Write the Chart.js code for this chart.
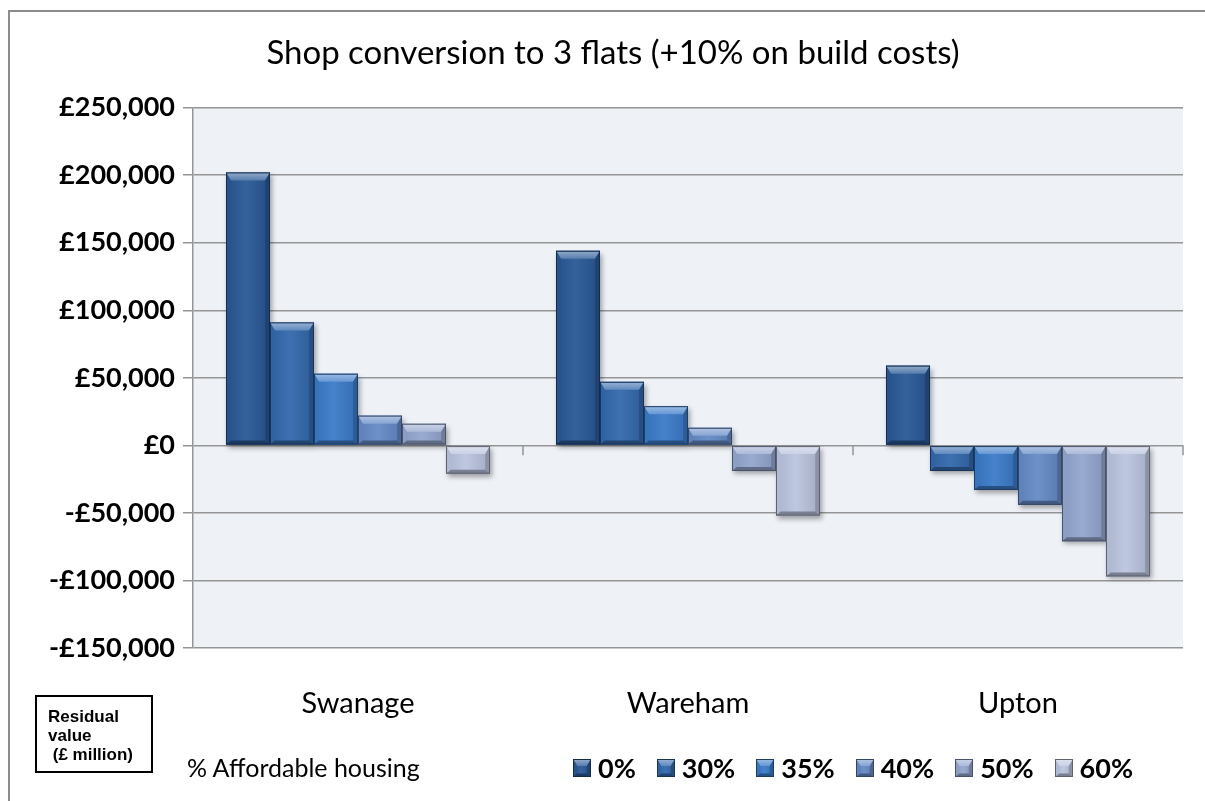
<!DOCTYPE html>
<html>
<head>
<meta charset="utf-8">
<script src="https://cdn.jsdelivr.net/npm/chart.js@4.4.1/dist/chart.umd.min.js"></script>
<style>
  html, body { margin: 0; padding: 0; background: #fff; overflow: hidden; }
  #wrap { position: relative; width: 1205px; height: 801px; overflow: hidden; }
  #chart { position: absolute; left: 0; top: 0; }
  #frame { position: absolute; left: 8px; top: 10px; width: 1300px; height: 900px; border: 2px solid #8c8c8c; box-sizing: border-box; pointer-events: none; }
  #unitBox { position: absolute; left: 35px; top: 695px; width: 118px; height: 78px; border: 2px solid #000; box-sizing: border-box;
             font: bold 17px "Liberation Sans", Arial, sans-serif; line-height: 19px; padding: 10px 0 0 11px; color: #000; }
  #legendLabel { position: absolute; left: 187px; top: 752px; font: 25px Lato, sans-serif; color: #000; }
  #legend { position: absolute; left: 573px; top: 751px; display: flex; align-items: center; font: bold 27px Lato, sans-serif; color: #000; }
  #legend .item { display: flex; align-items: center; margin-right: 21px; }
  #legend canvas { margin-right: 7px; }
</style>
</head>
<body>
<div id="wrap">
  <canvas id="chart" width="1205" height="801"></canvas>
  <div id="frame"></div>
  <div id="unitBox">Residual<br>value<br>&nbsp;(£ million)</div>
  <div id="legendLabel">% Affordable housing</div>
  <div id="legend"></div>
</div>
<script>
// Residual values by town for each affordable housing share
const towns = ['Swanage', 'Wareham', 'Upton'];
const shares = ['0%', '30%', '35%', '40%', '50%', '60%'];
const v0 = [202000, 144000, 59000];
const v30 = [91000, 47000, -19000];
const v35 = [53000, 29000, -33000];
const v40 = [22000, 13000, -44000];
const v50 = [16000, -19000, -71000];
const v60 = [-21000, -52000, -97000];
const seriesValues = [v0, v30, v35, v40, v50, v60];
const yMin = -150000, yMax = 250000, yStep = 50000;

const shareColours = [
  [40, 88, 150], [50, 104, 172], [58, 122, 200],
  [100, 138, 198], [148, 166, 206], [186, 196, 222],
];

const rgb = c => `rgb(${c.join(',')})`;
const mix = (c, t, a) => `rgb(${c.map(v => Math.round(v + (t - v) * a)).join(',')})`;

function poly(ctx, pts, fill) {
  ctx.beginPath();
  ctx.moveTo(pts[0][0], pts[0][1]);
  pts.slice(1).forEach(p => ctx.lineTo(p[0], p[1]));
  ctx.closePath();
  ctx.fillStyle = fill;
  ctx.fill();
}

// Excel-style bevel on top of a drawn bar
function drawBevel(ctx, l, t, r, b, c, size) {
  const w = r - l, h = b - t;
  const kt = Math.min(size, h / 2, w / 2);
  const ks = Math.min(size * 0.6, w / 2);
  const kb = Math.min(size * 0.5, h / 2);
  ctx.save();
  // soft face gradient, lighter in the middle
  const g = ctx.createLinearGradient(l, 0, r, 0);
  g.addColorStop(0, mix(c, 0, 0.08));
  g.addColorStop(0.45, mix(c, 255, 0.06));
  g.addColorStop(1, mix(c, 0, 0.12));
  ctx.fillStyle = g;
  ctx.fillRect(l, t, w, h);
  const gt = ctx.createLinearGradient(0, t, 0, t + kt);
  gt.addColorStop(0, mix(c, 255, 0.5));
  gt.addColorStop(1, mix(c, 255, 0.22));
  poly(ctx, [[l, t], [r, t], [r - ks, t + kt], [l + ks, t + kt]], gt);
  poly(ctx, [[l, t], [l + ks, t + kt], [l + ks, b - kb], [l, b]], mix(c, 0, 0.05));
  poly(ctx, [[r, t], [r - ks, t + kt], [r - ks, b - kb], [r, b]], mix(c, 0, 0.25));
  poly(ctx, [[l, b], [l + ks, b - kb], [r - ks, b - kb], [r, b]], mix(c, 0, 0.35));
  ctx.strokeStyle = mix(c, 0, 0.5);
  ctx.lineWidth = 1;
  ctx.strokeRect(l + 0.5, t + 0.5, w - 1, h - 1);
  ctx.restore();
}

const plotBg = {
  id: 'plotBg',
  beforeDraw(chart) {
    const { ctx, chartArea: a } = chart;
    ctx.save();
    ctx.fillStyle = '#eef1f6';
    ctx.fillRect(a.left, a.top, a.right - a.left, a.bottom - a.top);
    ctx.restore();
  },
};

const bevelBars = {
  id: 'bevelBars',
  beforeDatasetsDraw(chart) {
    const ctx = chart.ctx;
    ctx.save();
    ctx.shadowColor = 'rgba(0,0,0,0.35)';
    ctx.shadowBlur = 5;
    ctx.shadowOffsetX = 2;
    ctx.shadowOffsetY = 3;
  },
  afterDatasetsDraw(chart) {
    const ctx = chart.ctx;
    ctx.restore();
    chart.data.datasets.forEach((ds, i) => {
      chart.getDatasetMeta(i).data.forEach(el => {
        const { x, y, base, width } = el.getProps(['x', 'y', 'base', 'width'], true);
        drawBevel(ctx, x - width / 2, Math.min(y, base), x + width / 2, Math.max(y, base), shareColours[i], 8);
      });
    });
  },
};

// small tick marks on the zero line between towns
const zeroTicks = {
  id: 'zeroTicks',
  afterDraw(chart) {
    const { ctx, scales: { x, y } } = chart;
    const y0 = y.getPixelForValue(0);
    ctx.save();
    ctx.strokeStyle = '#959595';
    ctx.lineWidth = 1.5;
    for (let i = 0; i < towns.length; i++) {
      const px = x.getPixelForValue(i + 0.5);
      ctx.beginPath();
      ctx.moveTo(px, y0);
      ctx.lineTo(px, y0 + 10);
      ctx.stroke();
    }
    ctx.restore();
  },
};

const chart = new Chart(document.getElementById('chart'), {
  type: 'bar',
  data: {
    labels: towns,
    datasets: shares.map((s, i) => ({
      label: s,
      data: seriesValues[i],
      backgroundColor: rgb(shareColours[i]),
      borderWidth: 0,
    })),
  },
  options: {
    responsive: false,
    animation: false,
    layout: { padding: { left: 43, right: 22, top: 0, bottom: 0 } },
    datasets: { bar: { categoryPercentage: 0.8, barPercentage: 1.0 } },
    plugins: {
      legend: { display: false },
      tooltip: { enabled: false },
      title: {
        display: true,
        text: 'Shop conversion to 3 flats (+10% on build costs)',
        color: '#000',
        font: { family: 'Lato', size: 33, weight: 'normal' },
        padding: { top: 34, bottom: 34 },
      },
    },
    scales: {
      x: {
        grid: { display: false },
        border: { display: false },
        ticks: { color: '#000', font: { family: 'Lato', size: 29 }, padding: 30 },
        afterFit: s => { s.height = 153; },
      },
      y: {
        min: yMin,
        max: yMax,
        ticks: {
          stepSize: yStep,
          color: '#000',
          padding: 8,
          font: { family: 'Lato', size: 27, weight: 'bold' },
          callback: v => (v < 0 ? '-£' : '£') + Math.abs(v).toLocaleString('en-GB'),
        },
        grid: { color: '#959595', lineWidth: 1.5, tickLength: 10 },
        border: { color: '#959595', width: 1.5 },
        afterFit: s => { s.width = 150; },
      },
    },
  },
  plugins: [plotBg, bevelBars, zeroTicks],
});

// HTML legend built from the chart's datasets
const legendEl = document.getElementById('legend');
chart.data.datasets.forEach((ds, i) => {
  const item = document.createElement('div');
  item.className = 'item';
  const sw = document.createElement('canvas');
  sw.width = 18; sw.height = 18;
  const sctx = sw.getContext('2d');
  drawBevel(sctx, 0, 0, 18, 18, shareColours[i], 7);
  const txt = document.createElement('span');
  txt.textContent = ds.label;
  item.appendChild(sw);
  item.appendChild(txt);
  legendEl.appendChild(item);
});
</script>
</body>
</html>
